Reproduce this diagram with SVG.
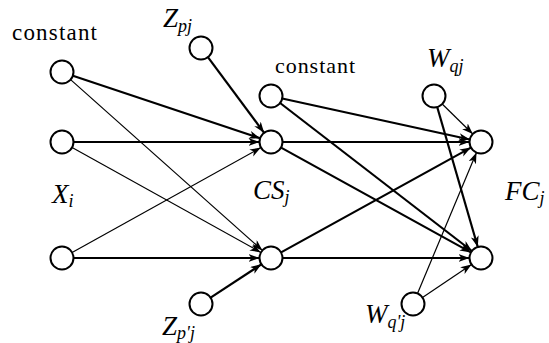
<svg xmlns="http://www.w3.org/2000/svg" width="549" height="343" viewBox="0 0 549 343">
<style>
.n{fill:#fff;stroke:#000;stroke-width:2}
.e{fill:none;stroke:#000}
.k{stroke-width:2.2}
.t{stroke-width:1.2}
text{font-family:'Liberation Serif','Times New Roman',serif;fill:#000}
.lbl{font-size:23px}
.v{font-style:italic;font-size:27px}
.s{font-size:18px}
</style>
<defs>
<marker id="a" markerUnits="userSpaceOnUse" markerWidth="12" markerHeight="10" refX="11" refY="4" orient="auto">
<path d="M0,0 L11,4 L0,8 L3,4 z" fill="#000"/>
</marker>
</defs>
<rect width="549" height="343" fill="#fff"/>
<g id="connectors">
<line class="e k" x1="72.9" y1="75.7" x2="260.1" y2="138.3" marker-end="url(#a)"/>
<line class="e t" x1="70.6" y1="79.6" x2="262.4" y2="250.4" marker-end="url(#a)"/>
<line class="e k" x1="73.5" y1="142" x2="259.5" y2="142" marker-end="url(#a)"/>
<line class="e t" x1="72.1" y1="147.6" x2="260.9" y2="252.4" marker-end="url(#a)"/>
<line class="e t" x1="72.1" y1="252.4" x2="260.9" y2="147.6" marker-end="url(#a)"/>
<line class="e k" x1="73.5" y1="258" x2="259.5" y2="258" marker-end="url(#a)"/>
<line class="e k" x1="207.9" y1="57.2" x2="264.1" y2="132.8" marker-end="url(#a)"/>
<line class="e k" x1="210.6" y1="297.7" x2="261.4" y2="264.3" marker-end="url(#a)"/>
<line class="e k" x1="282.2" y1="98.5" x2="469.8" y2="139.5" marker-end="url(#a)"/>
<line class="e k" x1="280.1" y1="103" x2="471.9" y2="251" marker-end="url(#a)"/>
<line class="e k" x1="282.5" y1="142" x2="469.5" y2="142" marker-end="url(#a)"/>
<line class="e k" x1="281.1" y1="147.6" x2="470.9" y2="252.4" marker-end="url(#a)"/>
<line class="e k" x1="281.1" y1="252.4" x2="470.9" y2="147.6" marker-end="url(#a)"/>
<line class="e k" x1="282.5" y1="258" x2="469.5" y2="258" marker-end="url(#a)"/>
<line class="e t" x1="442.2" y1="104" x2="472.8" y2="134" marker-end="url(#a)"/>
<line class="e k" x1="437.2" y1="107" x2="477.8" y2="247" marker-end="url(#a)"/>
<line class="e t" x1="417.5" y1="293.4" x2="476.5" y2="152.6" marker-end="url(#a)"/>
<line class="e t" x1="422.5" y1="297.6" x2="471.5" y2="264.4" marker-end="url(#a)"/>
</g>
<g id="constant1"><circle class="n" cx="62" cy="72" r="11.5"/><text class="lbl" x="12" y="40" textLength="85" lengthAdjust="spacing">constant</text></g>
<g id="x1"><circle class="n" cx="62" cy="142" r="11.5"/></g>
<g id="x2"><circle class="n" cx="62" cy="258" r="11.5"/></g>
<g id="Xi"><text class="v" x="52" y="203">X<tspan class="s" dy="4">i</tspan></text></g>
<g id="Zpj"><circle class="n" cx="201" cy="48" r="11.5"/><text class="v" x="163" y="27">Z<tspan class="s" dy="5">pj</tspan></text></g>
<g id="Zp2j"><circle class="n" cx="201" cy="304" r="11.5"/><text class="v" x="162" y="335">Z<tspan class="s" dy="4">p'j</tspan></text></g>
<g id="constant2"><circle class="n" cx="271" cy="96" r="11.5"/><text class="lbl" x="275" y="73" style="font-size:22px" textLength="80" lengthAdjust="spacing">constant</text></g>
<g id="cs1"><circle class="n" cx="271" cy="142" r="11.5"/></g>
<g id="cs2"><circle class="n" cx="271" cy="258" r="11.5"/></g>
<g id="CSj"><text class="v" x="253" y="199">CS<tspan class="s" dy="4">j</tspan></text></g>
<g id="Wqj"><circle class="n" cx="434" cy="96" r="11.5"/><text class="v" x="427" y="67">W<tspan class="s" dy="5">qj</tspan></text></g>
<g id="Wq2j"><circle class="n" cx="413" cy="304" r="11.5"/><text class="v" x="365" y="323">W<tspan class="s" dy="5">q'j</tspan></text></g>
<g id="fc1"><circle class="n" cx="481" cy="142" r="11.5"/></g>
<g id="fc2"><circle class="n" cx="481" cy="258" r="11.5"/></g>
<g id="FCj"><text class="v" x="505" y="200">FC<tspan class="s" dy="4">j</tspan></text></g>
</svg>
